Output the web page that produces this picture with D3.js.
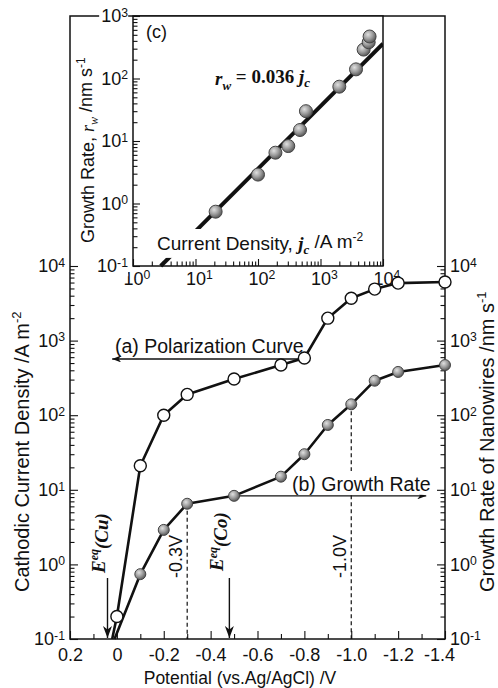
<!DOCTYPE html>
<html>
<head>
<meta charset="utf-8">
<script src="https://cdn.jsdelivr.net/npm/d3@7"></script>
<style>
body { margin: 0; background: #fff; }
svg { display: block; }
</style>
</head>
<body>
<script>
// (a) polarization curve: potential (V vs. Ag/AgCl) and cathodic current density (A m-2)
var polPotential = [0, -0.1, -0.2, -0.3, -0.5, -0.7, -0.8, -0.9, -1.0, -1.1, -1.2, -1.4];
var polDensity = [0.2, 21, 100, 190, 305, 470, 585, 2000, 3700, 4900, 5900, 6100];

// (b) growth rate of nanowires (nm s-1)
var growthPotential = [-0.1, -0.2, -0.3, -0.5, -0.7, -0.8, -0.9, -1.0, -1.1, -1.2, -1.4];
var growthRate = [0.74, 2.9, 6.5, 8.3, 15, 30, 74, 140, 290, 380, 470];

// potentials where both curves leave the 10^-1 axis
var polOnset = 0.02;
var growthOnset = 0.01;

// equilibrium potentials and marked potentials
var eqCu = 0.04;
var eqCo = -0.48;
var markedPotentials = [-0.3, -1.0];

// (c) fit r_w = 0.036 j_c
var fitCoef = 0.036;

var potentialTicks = [0.2, 0.1, 0, -0.1, -0.2, -0.3, -0.4, -0.5, -0.6, -0.7, -0.8,
    -0.9, -1.0, -1.1, -1.2, -1.3, -1.4];

var fontSans = '"Liberation Sans", Arial, Helvetica, sans-serif';
var fontSerif = '"Liberation Serif", "Times New Roman", serif';
var ink = '#111';

var svg = d3.select('body').append('svg')
    .attr('width', 498)
    .attr('height', 688)
    .style('font-family', fontSans);

var defs = svg.append('defs');
var grad = defs.append('radialGradient')
    .attr('id', 'ball')
    .attr('cx', '38%').attr('cy', '35%').attr('r', '65%');
grad.append('stop').attr('offset', '0%').attr('stop-color', '#e0e0e0');
grad.append('stop').attr('offset', '55%').attr('stop-color', '#9c9c9c');
grad.append('stop').attr('offset', '100%').attr('stop-color', '#5a5a5a');

function arrowMarker(id, len, half) {
    defs.append('marker')
        .attr('id', id)
        .attr('markerUnits', 'userSpaceOnUse')
        .attr('viewBox', [-len, -half, len, 2 * half].join(' '))
        .attr('refX', 0).attr('refY', 0)
        .attr('markerWidth', len).attr('markerHeight', 2 * half)
        .attr('orient', 'auto')
      .append('path')
        .attr('d', 'M0,0L' + (-len) + ',' + (-half) + 'L' + (-len * 0.7) + ',0L' + (-len) + ',' + half + 'Z')
        .attr('fill', ink);
}
arrowMarker('headS', 9, 3.5);
arrowMarker('headL', 12, 4.5);

function isDecade(d) {
    var l = Math.log10(d);
    return Math.abs(l - Math.round(l)) < 1e-6;
}

function isEven(d) {
    return Math.round(d * 10) % 2 === 0;
}

function styleAxis(g, size) {
    g.attr('font-size', size).attr('font-family', fontSans);
    g.select('.domain').remove();
    g.selectAll('.tick line').attr('stroke', ink).attr('stroke-width', 1.1);
    g.selectAll('.tick text').attr('fill', ink);
}

// "10" with a superscript exponent; centre the "10" on the tick if asked
function powLabels(g, centre) {
    g.selectAll('.tick text').each(function(d) {
        if(!isDecade(d)) return;
        var t = d3.select(this);
        var e = Math.round(Math.log10(d));
        t.text(null);
        var base = t.append('tspan').text('10');
        t.append('tspan')
            .attr('dy', '-0.45em')
            .attr('font-size', '0.68em')
            .text(e < 0 ? '-' + Math.abs(e) : String(e));
        if(centre) {
            var w = base.node().getComputedTextLength();
            t.attr('text-anchor', 'start').attr('x', -w / 2);
        }
    });
}

// text built from styled pieces
function richText(parent, parts) {
    var t = parent.append('text').attr('fill', ink);
    parts.forEach(function(p) {
        var s = t.append('tspan').text(p.text);
        if(p.italic) s.attr('font-style', 'italic');
        if(p.bold) s.attr('font-weight', 'bold');
        if(p.serif) s.attr('font-family', fontSerif);
        if(p.size) s.attr('font-size', p.size);
        if(p.dy) s.attr('dy', p.dy);
    });
    return t;
}

// white box right behind a text
function backdrop(t, pad, clipBottom) {
    var b = t.node().getBBox();
    var y1 = b.y + b.height + pad;
    if(clipBottom !== undefined) y1 = Math.min(y1, clipBottom);
    d3.select(t.node().parentNode).insert('rect', function() { return t.node(); })
        .attr('x', b.x - pad).attr('y', b.y - pad)
        .attr('width', b.width + 2 * pad).attr('height', y1 - (b.y - pad))
        .attr('fill', '#fff');
}

// ---------------- main plot ----------------
var x = d3.scaleLinear().domain([0.2, -1.4]).range([70, 445]);
var y = d3.scaleLog().domain([0.1, 1e4]).range([639, 266]);
var frameTop = 16;

var main = svg.append('g');

var gx = main.append('g')
    .attr('transform', 'translate(0,' + y(0.1) + ')')
    .call(d3.axisBottom(x)
        .tickValues(potentialTicks)
        .tickSize(-8)
        .tickSizeOuter(0)
        .tickPadding(9)
        .tickFormat(function(d) {
            if(!isEven(d)) return '';
            return d === 0 ? '0' : d.toFixed(1);
        }));
styleAxis(gx, 18);
gx.selectAll('.tick line').attr('y2', function(d) { return isEven(d) ? -8 : -5; });
// last label sits a little left of the corner, clear of the right axis labels
gx.selectAll('.tick text').filter(function(d) { return d === -1.4; }).attr('dx', -6);

var gyl = main.append('g')
    .attr('transform', 'translate(' + x(0.2) + ',0)')
    .call(d3.axisLeft(y)
        .tickValues(y.ticks())
        .tickSize(-8)
        .tickSizeOuter(0)
        .tickPadding(5)
        .tickFormat(function(d) { return isDecade(d) ? '10' : ''; }));
styleAxis(gyl, 18);
gyl.selectAll('.tick line').attr('x2', function(d) { return isDecade(d) ? 8 : 4.5; });
powLabels(gyl, false);

var gyr = main.append('g')
    .attr('transform', 'translate(' + x(-1.4) + ',0)')
    .call(d3.axisRight(y)
        .tickValues(y.ticks())
        .tickSize(-8)
        .tickSizeOuter(0)
        .tickPadding(5)
        .tickFormat(function(d) { return isDecade(d) ? '10' : ''; }));
styleAxis(gyr, 18);
gyr.selectAll('.tick line').attr('x2', function(d) { return isDecade(d) ? -8 : -4.5; });
powLabels(gyr, false);

main.append('rect')
    .attr('x', x(0.2)).attr('y', frameTop)
    .attr('width', x(-1.4) - x(0.2)).attr('height', y(0.1) - frameTop)
    .attr('fill', 'none').attr('stroke', ink).attr('stroke-width', 1.5);

// dashed guides at -0.3 V and -1.0 V
main.selectAll('line.guide')
    .data(markedPotentials)
    .enter().append('line')
    .attr('class', 'guide')
    .attr('x1', function(d) { return x(d); })
    .attr('x2', function(d) { return x(d); })
    .attr('y1', function(d) { return y(growthRate[growthPotential.indexOf(d)]); })
    .attr('y2', y(0.1))
    .attr('stroke', ink).attr('stroke-width', 1.2)
    .attr('stroke-dasharray', '4,3');

// equilibrium potential arrows
[eqCu, eqCo].forEach(function(p) {
    main.append('line')
        .attr('x1', x(p)).attr('x2', x(p))
        .attr('y1', 578).attr('y2', y(0.1) - 1)
        .attr('stroke', ink).attr('stroke-width', 1.4)
        .attr('marker-end', 'url(#headL)');
});

var eqLabels = [
    {el: 'Cu', bx: x(eqCu) - 3, by: 573},
    {el: 'Co', bx: x(eqCo) - 6, by: 571}
];
eqLabels.forEach(function(d) {
    richText(main, [
        {text: 'E', italic: true, bold: true, serif: true},
        {text: 'eq', italic: true, bold: true, serif: true, size: 12, dy: '-0.55em'},
        {text: '(' + d.el + ')', italic: true, bold: true, serif: true, dy: '0.55em'}
    ])
        .attr('font-size', 19)
        .attr('transform', 'translate(' + d.bx + ',' + d.by + ') rotate(-90)');
});

// -0.3V, -1.0V labels
markedPotentials.forEach(function(p) {
    main.append('text')
        .attr('fill', ink)
        .attr('font-size', 18)
        .attr('transform', 'translate(' + (x(p) - 5) + ',578) rotate(-90)')
        .text(p.toFixed(1) + 'V');
});

// (a) annotation: arrow to the left axis
var polAt08 = polDensity[polPotential.indexOf(-0.8)];
main.append('line')
    .attr('x1', x(-0.8)).attr('x2', x(0.02))
    .attr('y1', y(polAt08) + 1).attr('y2', y(polAt08) + 1)
    .attr('stroke', ink).attr('stroke-width', 1.4)
    .attr('marker-end', 'url(#headS)');
main.append('text')
    .attr('x', 115).attr('y', 353)
    .attr('font-size', 19.5)
    .attr('fill', ink)
    .text('(a) Polarization Curve');

// (b) annotation: arrow to the right axis
var growthAt05 = growthRate[growthPotential.indexOf(-0.5)];
main.append('line')
    .attr('x1', x(-0.5)).attr('x2', x(-1.32))
    .attr('y1', y(growthAt05)).attr('y2', y(growthAt05))
    .attr('stroke', ink).attr('stroke-width', 1.4)
    .attr('marker-end', 'url(#headS)');
var tb = main.append('text')
    .attr('x', 292).attr('y', 491)
    .attr('font-size', 19.5)
    .attr('fill', ink)
    .text('(b) Growth Rate');
backdrop(tb, 2, y(growthAt05) - 1);

// axis titles
richText(svg, [
    {text: 'Cathodic Current Density /A m'},
    {text: '-2', size: 13, dy: '-0.6em'}
])
    .attr('font-size', 20)
    .attr('transform', 'translate(29,592) rotate(-90)');

richText(svg, [
    {text: 'Growth Rate of Nanowires /nm s'},
    {text: '-1', size: 13, dy: '-0.6em'}
])
    .attr('font-size', 20)
    .attr('transform', 'translate(494,592) rotate(-90)');

svg.append('text')
    .attr('x', 240).attr('y', 684)
    .attr('text-anchor', 'middle')
    .attr('font-size', 17.5)
    .attr('fill', ink)
    .text('Potential (vs.Ag/AgCl) /V');

// ---------------- inset (c) ----------------
var ix = d3.scaleLog().domain([1, 1e4]).range([133, 383]);
var iy = d3.scaleLog().domain([0.1, 1e3]).range([266, 16]);

var inset = svg.append('g');

inset.append('rect')
    .attr('x', ix(1)).attr('y', iy(1e3))
    .attr('width', ix(1e4) - ix(1)).attr('height', iy(0.1) - iy(1e3))
    .attr('fill', '#fff').attr('stroke', ink).attr('stroke-width', 1.5);

inset.append('clipPath').attr('id', 'insetClip')
  .append('rect')
    .attr('x', ix(1)).attr('y', iy(1e3))
    .attr('width', ix(1e4) - ix(1)).attr('height', iy(0.1) - iy(1e3) + 2);

var igx = inset.append('g')
    .attr('transform', 'translate(0,' + iy(0.1) + ')')
    .call(d3.axisBottom(ix)
        .tickValues(ix.ticks())
        .tickSize(-7)
        .tickSizeOuter(0)
        .tickPadding(6)
        .tickFormat(function(d) { return isDecade(d) ? '10' : ''; }));
styleAxis(igx, 18);
igx.selectAll('.tick line').attr('y2', function(d) { return isDecade(d) ? -7 : -4.5; });
powLabels(igx, true);
igx.selectAll('.tick text').each(function(d) {
    if(!isDecade(d)) return;
    var b = this.getBBox();
    d3.select(this.parentNode).insert('rect', 'text')
        .attr('x', b.x).attr('y', b.y + 2)
        .attr('width', b.width).attr('height', b.height - 2)
        .attr('fill', '#fff');
});

var igy = inset.append('g')
    .attr('transform', 'translate(' + ix(1) + ',0)')
    .call(d3.axisLeft(iy)
        .tickValues(iy.ticks())
        .tickSize(-7)
        .tickSizeOuter(0)
        .tickPadding(5)
        .tickFormat(function(d) { return isDecade(d) ? '10' : ''; }));
styleAxis(igy, 18);
igy.selectAll('.tick line').attr('x2', function(d) { return isDecade(d) ? 7 : 4.5; });
powLabels(igy, false);
igy.selectAll('.tick text').each(function(d) {
    if(!isDecade(d)) return;
    var b = this.getBBox();
    d3.select(this.parentNode).insert('rect', 'text')
        .attr('x', b.x - 2).attr('y', b.y)
        .attr('width', b.width + 2).attr('height', b.height)
        .attr('fill', '#fff');
});

// fit line
inset.append('path')
    .attr('clip-path', 'url(#insetClip)')
    .attr('d', d3.line()
        .x(function(d) { return ix(d); })
        .y(function(d) { return iy(fitCoef * d); })([0.1 / fitCoef, 1e4]))
    .attr('stroke', ink).attr('stroke-width', 4).attr('fill', 'none');

var ixl = richText(inset, [
    {text: 'Current Density, '},
    {text: 'j', italic: true, bold: true, serif: true},
    {text: 'c', italic: true, bold: true, serif: true, size: 13, dy: '0.3em'},
    {text: ' /A m', dy: '-0.3em'},
    {text: '-2', size: 12, dy: '-0.6em'}
])
    .attr('x', 157).attr('y', 250)
    .attr('font-size', 19);
backdrop(ixl, 1);

inset.append('text')
    .attr('x', 146).attr('y', 38)
    .attr('font-size', 18)
    .attr('fill', ink)
    .text('(c)');

richText(inset, [
    {text: 'r', italic: true},
    {text: 'w', italic: true, size: 13, dy: '0.35em'},
    {text: ' = 0.036 ', dy: '-0.35em'},
    {text: 'j', italic: true},
    {text: 'c', italic: true, size: 13, dy: '0.35em'}
])
    .attr('x', 215).attr('y', 85)
    .attr('font-size', 19)
    .attr('font-weight', 'bold')
    .attr('font-family', fontSerif);

richText(svg, [
    {text: 'Growth Rate, '},
    {text: 'r', italic: true, serif: true},
    {text: 'w', italic: true, serif: true, size: 12, dy: '0.3em'},
    {text: ' /nm s', dy: '-0.3em'},
    {text: '-1', size: 12, dy: '-0.6em'}
])
    .attr('font-size', 18)
    .attr('transform', 'translate(94,243) rotate(-90)');

var insetPts = growthPotential.map(function(p, i) {
    return {j: polDensity[polPotential.indexOf(p)], r: growthRate[i]};
});

inset.selectAll('circle.pt')
    .data(insetPts)
    .enter().append('circle')
    .attr('class', 'pt')
    .attr('cx', function(d) { return ix(d.j); })
    .attr('cy', function(d) { return iy(d.r); })
    .attr('r', 6.5)
    .attr('fill', 'url(#ball)')
    .attr('stroke', '#444').attr('stroke-width', 1);

// ---------------- main data ----------------
var line = d3.line()
    .x(function(d) { return x(d[0]); })
    .y(function(d) { return y(d[1]); });

var polPts = polPotential.map(function(p, i) { return [p, polDensity[i]]; });
var growthPts = growthPotential.map(function(p, i) { return [p, growthRate[i]]; });

var data = svg.append('g');

data.append('path')
    .attr('d', line([[polOnset, 0.1]].concat(polPts)))
    .attr('fill', 'none').attr('stroke', ink).attr('stroke-width', 2.6)
    .attr('stroke-linejoin', 'round');

data.append('path')
    .attr('d', line([[growthOnset, 0.1]].concat(growthPts)))
    .attr('fill', 'none').attr('stroke', ink).attr('stroke-width', 2.6)
    .attr('stroke-linejoin', 'round');

data.selectAll('circle.pol')
    .data(polPts)
    .enter().append('circle')
    .attr('class', 'pol')
    .attr('cx', function(d) { return x(d[0]); })
    .attr('cy', function(d) { return y(d[1]); })
    .attr('r', 6)
    .attr('fill', '#fff')
    .attr('stroke', ink).attr('stroke-width', 1.4);

data.selectAll('circle.gr')
    .data(growthPts)
    .enter().append('circle')
    .attr('class', 'gr')
    .attr('cx', function(d) { return x(d[0]); })
    .attr('cy', function(d) { return y(d[1]); })
    .attr('r', 5.5)
    .attr('fill', 'url(#ball)')
    .attr('stroke', '#444').attr('stroke-width', 1);
</script>
</body>
</html>
